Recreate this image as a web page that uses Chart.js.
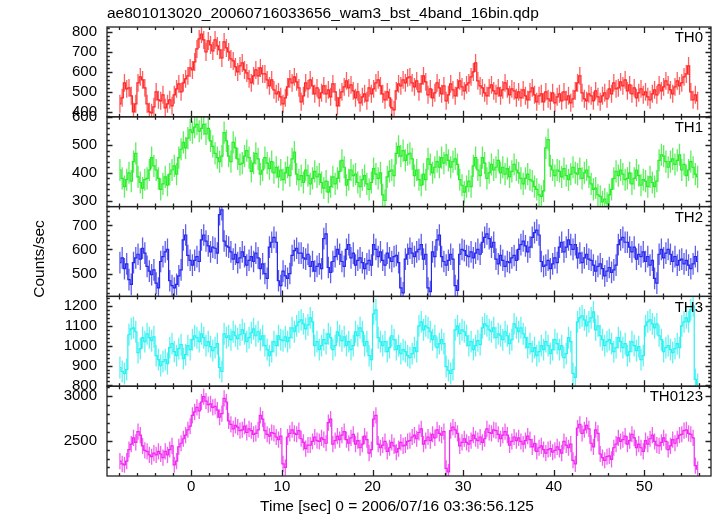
<!DOCTYPE html>
<html>
<head>
<meta charset="utf-8">
<script src="https://cdn.jsdelivr.net/npm/chart.js@4.4.0/dist/chart.umd.min.js"></script>
<style>
  html, body { margin: 0; padding: 0; background: #fff; }
  #wrap { width: 717px; height: 516px; position: relative; }
</style>
</head>
<body>
<div id="wrap"><canvas id="lc"></canvas></div>
<script>
// ============================================
// WAM light curves, 4 bands + sum (QDP style)
// ============================================

const TITLE = 'ae801013020_20060716033656_wam3_bst_4band_16bin.qdp';
const X_TITLE = 'Time [sec] 0 = 2006/07/16 03:36:56.125';
const Y_TITLE = 'Counts/sec';

// time bins: first bin centre and bin width (sec)
const T_START = -7.875;
const BIN = 0.25;
const X_MIN = -9.3;
const X_MAX = 57.35;
const X_TICKS = [0, 10, 20, 30, 40, 50];

const PANELS = ['TH0', 'TH1', 'TH2', 'TH3', 'TH0123'];

const TH0 = [
  440, 470, 545, 515, 520, 480, 400, 440, 545, 575, 560, 520, 440, 400, 395, 425,
  500, 460, 455, 485, 420, 440, 460, 430, 485, 515, 540, 500, 545, 565, 580, 620,
  610, 650, 715, 765, 790, 760, 700, 755, 735, 705, 760, 730, 710, 670, 750, 720,
  700, 665, 655, 625, 600, 630, 645, 610, 595, 565, 545, 580, 610, 580, 620, 590,
  590, 560, 530, 560, 510, 490, 500, 475, 440, 470, 525, 565, 545, 575, 550, 520,
  450, 480, 545, 515, 560, 530, 490, 520, 470, 495, 530, 490, 510, 475, 540, 500,
  430, 470, 500, 525, 555, 520, 535, 505, 470, 500, 445, 475, 490, 455, 520, 490,
  515, 545, 560, 530, 490, 460, 500, 470, 420, 410, 505, 540, 530, 560, 545, 570,
  575, 545, 525, 555, 500, 540, 580, 550, 485, 515, 470, 495, 545, 520, 490, 530,
  455, 485, 540, 510, 480, 520, 555, 525, 505, 535, 545, 575, 600, 645, 555, 530,
  520, 495, 480, 520, 535, 505, 490, 520, 480, 510, 545, 515, 485, 515, 505, 470,
  500, 470, 510, 480, 460, 500, 520, 485, 450, 480, 490, 450, 500, 465, 455, 495,
  445, 475, 490, 455, 500, 460, 480, 445, 465, 505, 545, 580, 495, 465, 455, 490,
  480, 455, 505, 475, 450, 480, 495, 465, 515, 490, 545, 515, 520, 550, 530, 560,
  505, 535, 490, 520, 470, 495, 515, 485, 500, 475, 460, 490, 510, 485, 535, 505,
  525, 555, 535, 510, 490, 525, 555, 530, 545, 575, 590, 630, 500, 460, 485, 455
];
const TH1 = [
  410, 380, 350, 375, 400, 370, 440, 470, 385, 365, 345, 375, 380, 410, 455, 425,
  410, 380, 340, 360, 385, 355, 395, 410, 425, 395, 455, 485, 510, 490, 525, 555,
  545, 565, 575, 550, 560, 575, 540, 560, 515, 495, 470, 455, 440, 460, 545, 515,
  460, 440, 510, 490, 450, 430, 435, 460, 480, 455, 405, 435, 470, 450, 395, 410,
  455, 435, 415, 440, 400, 420, 385, 410, 375, 400, 420, 390, 450, 475, 395, 375,
  390, 365, 410, 390, 360, 380, 405, 385, 395, 365, 345, 370, 330, 350, 385, 360,
  380, 405, 445, 420, 355, 375, 410, 390, 395, 365, 350, 375, 390, 360, 340, 365,
  415, 395, 380, 400, 320, 300, 385, 405, 410, 390, 470, 495, 460, 480, 445, 465,
  470, 450, 390, 410, 375, 355, 395, 375, 450, 430, 400, 420, 440, 420, 455, 435,
  465, 445, 420, 440, 450, 430, 375, 355, 330, 350, 370, 350, 425, 455, 410, 390,
  455, 435, 380, 400, 430, 410, 420, 445, 400, 420, 395, 415, 385, 405, 430, 410,
  400, 380, 360, 380, 395, 375, 370, 350, 340, 320, 315, 335, 490, 520, 425, 410,
  390, 410, 405, 385, 415, 390, 375, 395, 420, 400, 395, 415, 380, 400, 410, 385,
  360, 340, 345, 320, 315, 295, 305, 290, 320, 340, 380, 405, 390, 410, 395, 375,
  380, 400, 360, 380, 410, 390, 355, 375, 370, 350, 385, 365, 350, 370, 445, 465,
  460, 440, 420, 440, 450, 430, 445, 465, 410, 430, 390, 410, 440, 420, 395, 385
];
const TH2 = [
  545, 565, 520, 540, 475, 455, 545, 565, 580, 560, 605, 585, 530, 510, 495, 515,
  460, 440, 550, 570, 590, 600, 470, 450, 440, 455, 490, 515, 640, 660, 575, 555,
  535, 555, 570, 550, 640, 660, 635, 615, 590, 610, 605, 585, 745, 765, 635, 615,
  610, 590, 560, 580, 545, 565, 590, 570, 535, 555, 570, 550, 585, 565, 520, 540,
  500, 480, 610, 630, 650, 630, 470, 450, 510, 490, 480, 500, 575, 595, 605, 585,
  585, 565, 560, 580, 530, 550, 510, 530, 540, 520, 645, 665, 525, 505, 550, 570,
  600, 580, 550, 530, 600, 620, 565, 585, 535, 555, 565, 545, 520, 540, 555, 535,
  620, 600, 570, 590, 555, 535, 585, 565, 550, 570, 575, 545, 440, 420, 560, 580,
  605, 585, 570, 590, 600, 620, 560, 580, 440, 425, 590, 570, 640, 660, 570, 550,
  535, 555, 580, 560, 450, 430, 580, 600, 595, 575, 570, 590, 565, 585, 600, 580,
  630, 650, 665, 645, 610, 630, 560, 540, 575, 555, 530, 550, 545, 565, 575, 555,
  600, 620, 635, 615, 590, 610, 650, 670, 680, 660, 550, 530, 535, 555, 520, 540,
  565, 545, 610, 630, 590, 610, 640, 620, 600, 620, 565, 585, 545, 565, 580, 560,
  555, 535, 510, 530, 540, 520, 490, 510, 525, 505, 515, 535, 620, 640, 650, 630,
  630, 610, 590, 610, 560, 580, 570, 590, 550, 570, 535, 555, 480, 460, 580, 600,
  565, 585, 600, 580, 550, 570, 535, 555, 560, 540, 555, 535, 520, 540, 570, 550
];
const TH3 = [
  890, 870, 860, 880, 1055, 1085, 1090, 1070, 965, 985, 1040, 1020, 1060, 1040, 1025, 1045,
  950, 930, 900, 920, 930, 910, 990, 1010, 970, 950, 985, 1005, 935, 955, 1000, 980,
  1030, 1050, 1040, 1020, 1060, 1040, 1000, 1020, 995, 975, 990, 1010, 890, 870, 1060, 1040,
  1050, 1030, 1070, 1050, 1035, 1055, 1080, 1060, 1020, 1040, 1065, 1085, 1050, 1070, 1030, 1050,
  1000, 980, 950, 970, 1020, 1000, 1050, 1030, 1025, 1045, 1020, 1040, 1090, 1070, 1100, 1120,
  1130, 1110, 1085, 1105, 1140, 1120, 1000, 1020, 980, 1000, 1030, 1010, 1060, 1040, 980, 1000,
  1070, 1050, 1025, 1045, 1000, 1020, 980, 1000, 1070, 1050, 1090, 1070, 1000, 1020, 950, 930,
  1160, 1180, 1040, 1020, 1000, 1020, 970, 990, 1050, 1030, 980, 1000, 960, 980, 970, 950,
  940, 960, 990, 970, 1100, 1120, 1080, 1100, 1090, 1070, 1030, 1050, 990, 1010, 1030, 1010,
  895, 875, 860, 880, 1080, 1100, 1060, 1080, 1070, 1050, 1000, 1020, 980, 1000, 1025, 1005,
  1090, 1110, 1100, 1080, 1070, 1090, 1040, 1060, 1050, 1030, 1070, 1050, 1010, 1030, 1110, 1090,
  1070, 1090, 1060, 1040, 990, 1010, 970, 990, 950, 970, 1000, 980, 1020, 1000, 960, 980,
  1030, 1010, 980, 1000, 940, 960, 1040, 1020, 860, 840, 1120, 1140, 1150, 1130, 1100, 1120,
  1140, 1170, 1080, 1100, 1050, 1030, 1000, 1020, 1030, 1010, 970, 990, 1040, 1020, 990, 1010,
  950, 970, 1020, 1000, 975, 995, 930, 950, 1100, 1120, 1130, 1110, 1090, 1110, 1050, 1030,
  970, 990, 1000, 980, 965, 985, 1010, 990, 1100, 1120, 1140, 1120, 1180, 1200, 830, 805
];
const TH0123 = [
  2270, 2240, 2230, 2270, 2400, 2460, 2530, 2480, 2600, 2560, 2440, 2390, 2380, 2340, 2320, 2360,
  2340, 2380, 2350, 2310, 2380, 2340, 2400, 2440, 2230, 2270, 2430, 2470, 2520, 2560, 2620, 2660,
  2780, 2820, 2870, 2830, 2930, 2990, 2940, 2900, 2910, 2870, 2880, 2840, 2760, 2800, 2970, 2930,
  2720, 2680, 2630, 2670, 2650, 2610, 2620, 2660, 2590, 2630, 2610, 2570, 2580, 2620, 2780, 2740,
  2610, 2570, 2550, 2590, 2580, 2540, 2510, 2550, 2240, 2200, 2540, 2580, 2620, 2580, 2570, 2610,
  2520, 2480, 2410, 2450, 2450, 2490, 2540, 2500, 2490, 2530, 2510, 2470, 2700, 2740, 2460, 2500,
  2550, 2510, 2560, 2600, 2510, 2470, 2530, 2570, 2460, 2500, 2420, 2460, 2550, 2510, 2360, 2400,
  2740, 2780, 2460, 2420, 2450, 2490, 2380, 2420, 2480, 2440, 2370, 2410, 2480, 2440, 2450, 2490,
  2500, 2540, 2560, 2520, 2590, 2630, 2460, 2500, 2540, 2500, 2570, 2530, 2620, 2580, 2560, 2600,
  2190, 2150, 2610, 2650, 2620, 2580, 2440, 2480, 2520, 2480, 2460, 2500, 2560, 2520, 2500, 2540,
  2480, 2520, 2630, 2590, 2580, 2620, 2610, 2570, 2520, 2560, 2600, 2560, 2450, 2490, 2540, 2500,
  2530, 2490, 2460, 2500, 2550, 2510, 2430, 2470, 2380, 2420, 2440, 2400, 2360, 2400, 2410, 2370,
  2390, 2430, 2400, 2360, 2490, 2450, 2420, 2460, 2280, 2240, 2640, 2680, 2580, 2620, 2670, 2630,
  2470, 2430, 2620, 2580, 2350, 2310, 2280, 2320, 2330, 2290, 2420, 2460, 2530, 2490, 2510, 2550,
  2460, 2500, 2570, 2530, 2420, 2460, 2420, 2380, 2500, 2460, 2520, 2560, 2490, 2450, 2440, 2480,
  2530, 2490, 2400, 2440, 2510, 2470, 2520, 2560, 2570, 2610, 2620, 2580, 2570, 2530, 2220, 2180
];

// per panel: y range, labelled ticks, minor step, error half-width
const Y_RANGES = [[375, 825], [278, 602], [405, 778], [796, 1248], [2105, 3106]];
const Y_TICKS = [
  [400, 500, 600, 700, 800],
  [300, 400, 500, 600],
  [500, 600, 700],
  [800, 900, 1000, 1100, 1200],
  [2500, 3000]
];
const Y_MAJOR = [100, 100, 100, 100, 500];
const Y_MINOR = [20, 20, 20, 20, 100];
const ERR = [45, 40, 45, 55, 90];
const COLORS = ['#ff2626', '#26ee26', '#2626ee', '#26f2f2', '#f226f2'];
const ERR_COLORS = ['rgba(255,55,55,0.8)', 'rgba(55,235,55,0.8)', 'rgba(55,55,235,0.8)',
  'rgba(55,240,240,0.8)', 'rgba(240,55,240,0.8)'];

const SERIES = [TH0, TH1, TH2, TH3, TH0123];
const FONT = 'Liberation Sans, Arial, Helvetica, sans-serif';

const times = TH0.map((_, i) => T_START + i * BIN);

const datasets = SERIES.map((vals, k) => ({
  label: PANELS[k],
  data: vals.map((v, i) => ({ x: times[i], y: v })),
  yAxisID: 'y' + k,
  borderColor: COLORS[k],
  borderWidth: 1.2,
  pointRadius: 0,
  stepped: 'middle',
  fill: false,
  clip: false,
}));

const tickFont = { size: 15, family: FONT };

// y axes must be declared bottom panel first so TH0 ends on top
const scales = {
  x: {
    type: 'linear',
    min: X_MIN,
    max: X_MAX,
    afterBuildTicks: s => { s.ticks = X_TICKS.map(v => ({ value: v })); },
    afterFit: s => { s.height = 40; },
    grid: { display: false, drawTicks: false, tickLength: 0 },
    border: { display: false },
    ticks: { color: '#000', font: tickFont, padding: 1.5, maxRotation: 0, autoSkip: false,
      callback: v => String(v) },
    title: { display: false }
  }
};
for (let k = PANELS.length - 1; k >= 0; k--) {
  scales['y' + k] = {
    type: 'linear',
    position: 'left',
    stack: 'panels',
    stackWeight: 1,
    min: Y_RANGES[k][0],
    max: Y_RANGES[k][1],
    afterBuildTicks: s => { s.ticks = Y_TICKS[k].map(v => ({ value: v })); },
    afterFit: s => { s.width = 107; },
    grid: { display: false, drawTicks: false, tickLength: 0 },
    border: { display: false },
    ticks: { color: '#000', font: tickFont, padding: 10, autoSkip: false,
      callback: v => String(v) }
  };
}

// clip each panel to its own band and draw the error bars under the step line
const errorBars = {
  id: 'errorBars',
  beforeDatasetDraw(chart, args) {
    const { ctx, chartArea, scales } = chart;
    const k = args.index;
    const xs = scales.x;
    const ys = scales['y' + k];
    ctx.save();
    ctx.beginPath();
    ctx.rect(chartArea.left, ys.top, chartArea.right - chartArea.left, ys.bottom - ys.top);
    ctx.clip();
    ctx.strokeStyle = ERR_COLORS[k];
    ctx.lineWidth = 1.3;
    ctx.beginPath();
    SERIES[k].forEach((v, i) => {
      const px = xs.getPixelForValue(times[i]);
      ctx.moveTo(px, ys.getPixelForValue(v - ERR[k]));
      ctx.lineTo(px, ys.getPixelForValue(v + ERR[k]));
    });
    ctx.stroke();
  },
  afterDatasetDraw(chart) {
    chart.ctx.restore();
  }
};

// QDP frames, inward ticks and labels
const qdpFrame = {
  id: 'qdpFrame',
  afterDraw(chart) {
    const { ctx, chartArea, scales } = chart;
    const xs = scales.x;
    const L = chartArea.left, R = chartArea.right;
    ctx.save();
    ctx.strokeStyle = '#222';
    ctx.lineWidth = 1.3;
    PANELS.forEach((name, k) => {
      const ys = scales['y' + k];
      const T = ys.top, B = ys.bottom;
      ctx.strokeRect(L, T, R - L, B - T);
      ctx.beginPath();
      const first = Math.ceil(Y_RANGES[k][0] / Y_MINOR[k]) * Y_MINOR[k];
      for (let v = first; v <= Y_RANGES[k][1]; v += Y_MINOR[k]) {
        const len = v % Y_MAJOR[k] === 0 ? 5.5 : 2.8;
        const py = Math.round(ys.getPixelForValue(v)) + 0.5;
        ctx.moveTo(L, py); ctx.lineTo(L + len, py);
        ctx.moveTo(R, py); ctx.lineTo(R - len, py);
      }
      for (let t = Math.ceil(X_MIN / 2) * 2; t <= X_MAX; t += 2) {
        const len = t % 10 === 0 ? 6 : 3;
        const px = Math.round(xs.getPixelForValue(t)) + 0.5;
        ctx.moveTo(px, T); ctx.lineTo(px, T + len);
        ctx.moveTo(px, B); ctx.lineTo(px, B - len);
      }
      ctx.stroke();
      ctx.fillStyle = '#000';
      ctx.font = '15px ' + FONT;
      ctx.textAlign = 'right';
      ctx.textBaseline = 'middle';
      ctx.fillText(name, 703, T + 11);
    });
    ctx.fillStyle = '#000';
    ctx.font = '15.5px ' + FONT;
    ctx.textAlign = 'left';
    ctx.textBaseline = 'middle';
    ctx.fillText(TITLE, 107, 14);
    ctx.textAlign = 'center';
    ctx.fillText(X_TITLE, 397, 507);
    ctx.translate(40, 259);
    ctx.rotate(-Math.PI / 2);
    ctx.fillText(Y_TITLE, 0, 0);
    ctx.restore();
  }
};

new Chart(document.getElementById('lc'), {
  type: 'line',
  data: { datasets },
  options: {
    responsive: true,
    maintainAspectRatio: false,
    animation: false,
    layout: { padding: { left: 0, right: 6, top: 27, bottom: 0 } },
    plugins: {
      legend: { display: false },
      tooltip: { enabled: false },
      title: { display: false }
    },
    scales
  },
  plugins: [errorBars, qdpFrame]
});
</script>
</body>
</html>
